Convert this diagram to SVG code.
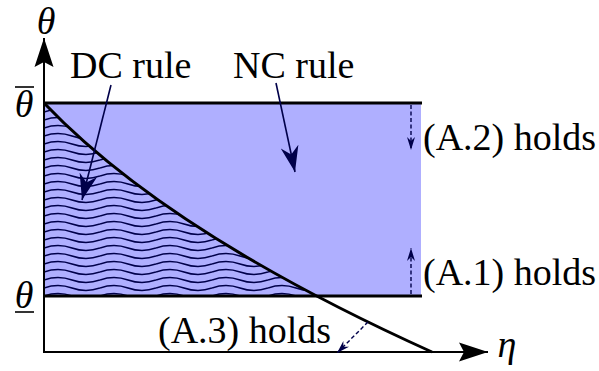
<svg xmlns="http://www.w3.org/2000/svg" width="599" height="371" viewBox="0 0 599 371">
<style>
.t{font-family:"Liberation Serif","Times New Roman",serif;font-size:38px;fill:#000}
.m{font-style:italic}
.ax{stroke:#000;stroke-width:2;fill:none}
.thick{stroke:#000;stroke-width:3;fill:none}
.ann{stroke:#00004a;stroke-width:1.6;fill:none}
.dash{stroke:#00004a;stroke-width:1.4;fill:none;stroke-dasharray:4 2.5}
</style>
<defs>
<pattern id="wave" patternUnits="userSpaceOnUse" x="44" y="100" width="56" height="8">
<path d="M0,4 Q14,-1 28,4 T56,4" fill="none" stroke="#00004a" stroke-width="1.6"/>
</pattern>
<marker id="axh" markerUnits="userSpaceOnUse" viewBox="-30 -10 31 20" markerWidth="31" markerHeight="20" refX="0" refY="0" orient="auto">
<path d="M0,0 L-29,-9.5 L-24,0 L-29,9.5 Z" fill="#000"/>
</marker>
<marker id="big" markerUnits="userSpaceOnUse" viewBox="-26 -10 27 20" markerWidth="27" markerHeight="20" refX="0" refY="0" orient="auto">
<path d="M0,0 L-26,-9 L-18,0 L-26,9 Z" fill="#00004a"/>
</marker>
<marker id="small" markerUnits="userSpaceOnUse" viewBox="-14 -5 15 10" markerWidth="15" markerHeight="10" refX="0" refY="0" orient="auto">
<path d="M0,0 L-13,-4 L-9,0 L-13,4 Z" fill="#00004a"/>
</marker>
</defs>

<g id="nc-region">
<rect x="44" y="103" width="377" height="193" fill="#afafff"/>
</g>
<g id="dc-region">
<path d="M44,103 Q139.2,202.8 317,296 L44,296 Z" fill="url(#wave)"/>
</g>
<g id="bounds">
<line class="thick" x1="44" y1="103" x2="422" y2="103"/>
<line class="thick" x1="44" y1="296" x2="422" y2="296"/>
<path class="thick" d="M44,103 Q168,233 432,352"/>
</g>
<g id="axes">
<line class="ax" x1="44" y1="353" x2="44" y2="38" marker-end="url(#axh)"/>
<line class="ax" x1="43" y1="352" x2="488" y2="352" marker-end="url(#axh)"/>
<text class="t m" x="46" y="34" text-anchor="middle">θ</text>
<text class="t m" x="507" y="357" text-anchor="middle">η</text>
</g>
<g id="theta-bar">
<text class="t m" x="24" y="117" text-anchor="middle">θ</text>
<line x1="15" y1="87" x2="34" y2="87" stroke="#000" stroke-width="1.6"/>
</g>
<g id="theta-under">
<text class="t m" x="24" y="308" text-anchor="middle">θ</text>
<line x1="15" y1="312" x2="34" y2="312" stroke="#000" stroke-width="1.6"/>
</g>
<g id="dc-label"><text class="t" x="70" y="78">DC rule</text></g>
<g id="nc-label"><text class="t" x="233" y="78">NC rule</text></g>
<g id="a2-label"><text class="t" x="423" y="150">(A.2) holds</text></g>
<g id="a1-label"><text class="t" x="423" y="285">(A.1) holds</text></g>
<g id="a3-label"><text class="t" x="158" y="343">(A.3) holds</text></g>
<g id="connectors">
<line class="ann" x1="111" y1="85" x2="82" y2="200" marker-end="url(#big)"/>
<line class="ann" x1="276" y1="83" x2="295" y2="172" marker-end="url(#big)"/>
<line class="dash" x1="411" y1="105" x2="411" y2="150" marker-end="url(#small)"/>
<line class="dash" x1="411" y1="294" x2="411" y2="248" marker-end="url(#small)"/>
<line class="dash" x1="368" y1="322" x2="337" y2="353" marker-end="url(#small)"/>
</g>
</svg>
